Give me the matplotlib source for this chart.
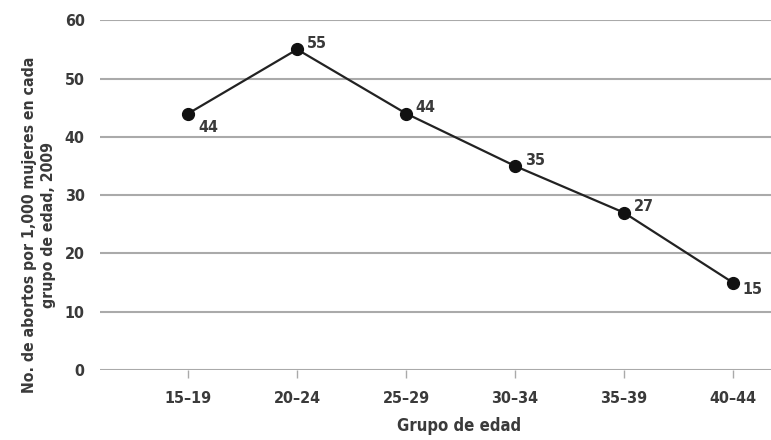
import matplotlib.pyplot as plt
import numpy as np

# datos
grupos = ['15–19', '20–24', '25–29', '30–34', '35–39', '40–44']
abortos = [44, 55, 44, 35, 27, 15]
etiquetas = ['44', '55', '44', '35', '27', '15']
yticks = [0, 10, 20, 30, 40, 50, 60]

plt.rcParams['font.family'] = ['DejaVu Sans']
plt.rcParams['font.stretch'] = 'condensed'
plt.rcParams['font.weight'] = 'bold'
txt = '#3a3a3a'

fig = plt.figure(figsize=(7.71, 4.4), dpi=100)
ax = fig.add_axes([0.1297, 0.159, 0.8703, 0.795])

x = np.arange(len(grupos))
ax.plot(x, abortos, color='#222222', lw=1.6, marker='o', ms=8.5,
        markerfacecolor='#111111', markeredgecolor='#111111', zorder=3, clip_on=False)

# etiquetas de valores
offsets = [(7, -13), (7, 1), (7, 1), (7, 1), (7, 1), (7, -8)]
for xi, yi, lab, off in zip(x, abortos, etiquetas, offsets):
    ax.annotate(lab, (xi, yi), xytext=off, textcoords='offset points',
                fontsize=11.5, color=txt)

ax.set_xlim(-0.81, 5.35)
ax.set_ylim(0, 60)
ax.set_yticks(yticks)
ax.set_yticklabels([str(v) for v in yticks], fontsize=11.5, color=txt)
ax.set_xticks(x)
ax.set_xticklabels(grupos, fontsize=11.5, color=txt)
ax.yaxis.grid(True, color='#aaaaaa', lw=1.5)
ax.set_axisbelow(True)
for s in ax.spines.values():
    s.set_visible(False)
ax.tick_params(axis='y', length=0, pad=11)
ax.tick_params(axis='x', length=6, color='#aaaaaa', width=1, pad=9)

ax.set_xlabel('Grupo de edad', fontsize=12, color=txt, fontweight='bold')
ax.xaxis.set_label_coords(0.535, -0.135)
ax.set_ylabel('No. de abortos por 1,000 mujeres en cada\ngrupo de edad, 2009',
              fontsize=11.3, color=txt, fontweight='bold', linespacing=1.35)
ax.yaxis.set_label_coords(-0.066, 0.414)

fig.savefig('out.png', dpi=100)
